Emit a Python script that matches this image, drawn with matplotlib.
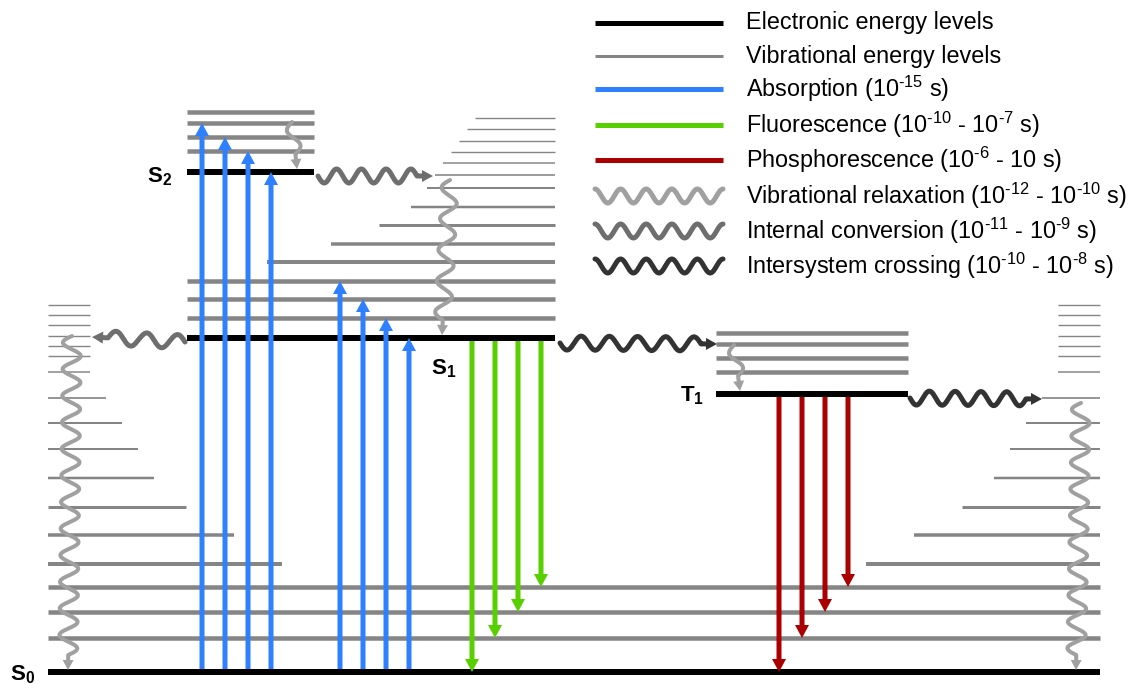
import matplotlib.pyplot as plt
import numpy as np

plt.rcParams.update({
    "font.family": ["Liberation Sans", "DejaVu Sans"],
    "mathtext.fontset": "custom",
    "mathtext.rm": "Liberation Sans",
    "mathtext.bf": "Liberation Sans:bold",
    "mathtext.default": "regular",
})

BLACK = "#000000"
VIB = "#858585"
BLUE = "#2f80ff"
GREEN = "#58d000"
RED = "#aa0000"
VR_C = "#a0a0a0"
IC_C = "#6e6e6e"
ISC_C = "#333333"
PX = 0.72  # points per pixel at dpi 100

# electronic levels: name, y, x start, x end
elec_names = ["S0", "S1", "S2", "T1"]
elec_y = [672, 338, 172, 394]
elec_x0 = [48, 187, 187, 716]
elec_x1 = [1100, 555, 314, 908]

# S0 vibrational levels (left part starts at 48, right part ends at 1100)
s0_vib_y = [638, 612, 587, 564, 535, 507, 478, 449, 423, 398, 372, 356, 346, 336, 325, 315, 305]
s0_vib_len = [None, None, None, 234, 186, 138, 106, 90, 74, 58, 42, 42, 42, 42, 42, 42, 42]
s0_vib_lw = [4.5, 4.5, 4.5, 4, 3.5, 3, 2.5, 2, 2, 1.7, 1.5, 1.4, 1.4, 1.4, 1.4, 1.4, 1.4]

# S1 vibrational levels
s1_vib_y = [318, 299, 281, 262, 244, 225, 207, 188, 175, 163, 152, 141, 129, 118]
s1_vib_x0 = [187, 187, 187, 267, 331, 379, 411, 427, 435, 443, 451, 459, 467, 475]
s1_vib_lw = [4.5, 4.5, 4.5, 4, 3.5, 3, 2.5, 2, 1.6, 1.5, 1.4, 1.4, 1.4, 1.4]

# S2 and T1 vibrational levels
s2_vib_y = [151, 137, 123, 112]
t1_vib_y = [372, 358, 344, 333]

# absorption arrows (from S0)
abs_x = [202, 225, 248, 271, 340, 363, 386, 409]
abs_top = [123, 137, 151, 172, 281, 299, 318, 338]
# fluorescence (from S1) and phosphorescence (from T1)
flu_x = [472, 495, 518, 541]
phos_x = [779, 802, 825, 848]
emit_end = [672, 638, 612, 587]

# wavy arrows: start, end, periods, amplitude
vr_arrows = [((292, 122), (297, 169), 1.0, 6), ((450, 180), (442, 335), 4.5, 8),
             ((72, 336), (68, 670), 12, 9), ((1081, 403), (1076, 670), 9.5, 9),
             ((734, 345), (740, 391), 1.0, 6)]
ic_arrows = [((318, 176), (433, 176), 4, 7), ((185, 342), (92, 337), 2.5, 7)]
isc_arrows = [((560, 343), (717, 344), 5, 7), ((910, 398), (1042, 399), 4.5, 7)]

legend_labels = [r"Electronic energy levels", r"Vibrational energy levels",
                 r"Absorption (10$^{\text{-15}}$ s)",
                 r"Fluorescence (10$^{\text{-10}}$ - 10$^{\text{-7}}$ s)",
                 r"Phosphorescence (10$^{\text{-6}}$ - 10 s)",
                 r"Vibrational relaxation (10$^{\text{-12}}$ - 10$^{\text{-10}}$ s)",
                 r"Internal conversion (10$^{\text{-11}}$ - 10$^{\text{-9}}$ s)",
                 r"Intersystem crossing (10$^{\text{-10}}$ - 10$^{\text{-8}}$ s)"]
legend_y = [23, 56, 89, 125, 160, 196, 231, 266]

fig = plt.figure(figsize=(11.36, 6.84), dpi=100)
ax = fig.add_axes([0, 0, 1, 1])
ax.set_xlim(0, 1136)
ax.set_ylim(684, 0)
ax.axis("off")


def hline(y, x0, x1, color, lw, z=2):
    ax.plot([x0, x1], [y, y], color=color, lw=lw * PX, solid_capstyle="butt", zorder=z)


def wavy(p0, p1, periods, amp, color, lw, head=True, head_w=12, head_l=10, tail=5, phase=0.0, z=5):
    p0, p1 = np.array(p0, float), np.array(p1, float)
    d = p1 - p0
    L = np.hypot(*d)
    u = d / L
    n = np.array([-u[1], u[0]])
    Lw = L - (head_l + tail if head else 0)
    s = np.linspace(0, Lw, 600)
    off = amp * np.sin(2 * np.pi * periods * s / Lw + phase)
    pts = p0 + np.outer(s, u) + np.outer(off, n)
    if head:
        pts = np.vstack([pts, p1 - u * (head_l - 1)])
    ax.plot(pts[:, 0], pts[:, 1], color=color, lw=lw * PX, solid_capstyle="round",
            solid_joinstyle="round", zorder=z)
    if head:
        b = p1 - u * head_l
        tri = np.array([p1, b + n * head_w / 2, b - n * head_w / 2])
        ax.add_patch(plt.Polygon(tri, closed=True, color=color, lw=0, zorder=z))


def arrow(x, y0, y1, color, z=4):
    ax.arrow(x, y0, 0, y1 - y0, width=5, head_width=14, head_length=13,
             length_includes_head=True, color=color, lw=0, zorder=z)


# vibrational levels
for y, ln, lw in zip(s0_vib_y, s0_vib_len, s0_vib_lw):
    if ln is None:
        hline(y, 48, 1100, VIB, lw)
    else:
        hline(y, 48, 48 + ln, VIB, lw)
        hline(y, 1100 - ln, 1100, VIB, lw)
for y, x0, lw in zip(s1_vib_y, s1_vib_x0, s1_vib_lw):
    hline(y, x0, 555, VIB, lw)
for y in s2_vib_y:
    hline(y, 187, 314, VIB, 4.5)
for y in t1_vib_y:
    hline(y, 716, 908, VIB, 4.5)

# electronic levels
for y, x0, x1 in zip(elec_y, elec_x0, elec_x1):
    hline(y, x0, x1, BLACK, 6, z=3)

# radiative transitions
for x, top in zip(abs_x, abs_top):
    arrow(x, 669, top, BLUE)
for x, e in zip(flu_x, emit_end):
    arrow(x, 341, e, GREEN)
for x, e in zip(phos_x, emit_end):
    arrow(x, 397, e, RED)

# non-radiative transitions
for p0, p1, k, a in vr_arrows:
    wavy(p0, p1, k, a, VR_C, 4, head_w=11, head_l=10)
for p0, p1, k, a in ic_arrows:
    wavy(p0, p1, k, a, IC_C, 5, head_w=12, head_l=11)
for p0, p1, k, a in isc_arrows:
    wavy(p0, p1, k, a, ISC_C, 5, head_w=12, head_l=11)

# state labels
lab_kw = dict(fontsize=16, fontweight="bold", va="baseline")
ax.text(10, 680, r"$\mathbf{S}_\mathbf{0}$", **lab_kw)
ax.text(147, 182, r"$\mathbf{S}_\mathbf{2}$", **lab_kw)
ax.text(431, 374, r"$\mathbf{S}_\mathbf{1}$", **lab_kw)
ax.text(680, 401, r"$\mathbf{T}_\mathbf{1}$", **lab_kw)

# legend
lx0, lx1 = 595, 723
hline(legend_y[0], lx0, lx1, BLACK, 5)
hline(legend_y[1], lx0, lx1, VIB, 3)
hline(legend_y[2], lx0, lx1, BLUE, 5)
hline(legend_y[3], lx0, lx1, GREEN, 5)
hline(legend_y[4], lx0, lx1, RED, 5)
for y, c in zip(legend_y[5:], [VR_C, IC_C, ISC_C]):
    wavy((lx0, y), (lx1, y), 5, 7, c, 5, head=False, phase=-np.pi / 2)
for y, t in zip(legend_y, legend_labels):
    ax.text(746, y, t, fontsize=16.8, va="center", ha="left")

fig.savefig("out.png", dpi=100)
